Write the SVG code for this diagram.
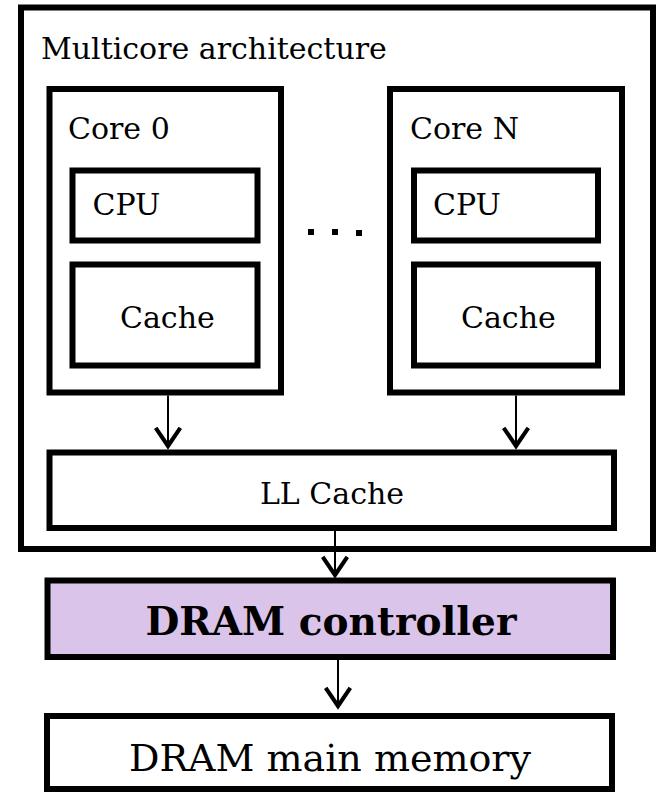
<svg xmlns="http://www.w3.org/2000/svg" width="656" height="792" viewBox="0 0 656 792">
  <defs>
    <marker id="vee" markerUnits="userSpaceOnUse" markerWidth="30" markerHeight="30" viewBox="-22 -14 26 28" refX="0" refY="0" orient="auto" overflow="visible">
      <path d="M-17,-11.5 L0,0 L-17,11.5" fill="none" stroke="#000" stroke-width="3.8" stroke-linejoin="miter"/>
    </marker>
  </defs>
  <style>
    .box { fill: #fff; stroke: #000; stroke-width: 6; }
    .ctrl { fill: #dbc4ea; stroke: #000; stroke-width: 6; }
    .lbl { font-family: "DejaVu Serif", "Liberation Serif", serif; font-size: 30px; fill: #000; }
    .mid { text-anchor: middle; }
    .big { font-size: 38px; }
    .bold { font-weight: bold; font-size: 39px; }
    .link { fill: none; stroke: #000; stroke-width: 2; marker-end: url(#vee); }
  </style>
  <rect width="656" height="792" fill="#fff"/>

  <g id="multicore">
    <rect class="box" x="21" y="7.5" width="632" height="541.5"/>
    <text class="lbl" x="41" y="59">Multicore architecture</text>
  </g>

  <g id="core0">
    <rect class="box" x="49.5" y="89" width="231.5" height="303.5"/>
    <text class="lbl" x="68" y="139">Core 0</text>
  </g>
  <g id="cpu0">
    <rect class="box" x="72.5" y="170.5" width="185" height="70"/>
    <text class="lbl" x="92.5" y="215">CPU</text>
  </g>
  <g id="cache0">
    <rect class="box" x="72.5" y="264.5" width="185" height="101"/>
    <text class="lbl" x="120" y="328">Cache</text>
  </g>

  <g id="ellipsis">
    <rect x="308" y="229" width="6" height="6" fill="#000"/>
    <rect x="332" y="229" width="6" height="6" fill="#000"/>
    <rect x="356" y="230" width="6" height="6" fill="#000"/>
  </g>

  <g id="coreN">
    <rect class="box" x="390" y="89" width="232" height="303.5"/>
    <text class="lbl" x="410" y="139">Core N</text>
  </g>
  <g id="cpuN">
    <rect class="box" x="414" y="170.5" width="184" height="70"/>
    <text class="lbl" x="433" y="215">CPU</text>
  </g>
  <g id="cacheN">
    <rect class="box" x="414" y="264.5" width="184" height="101"/>
    <text class="lbl" x="461" y="328">Cache</text>
  </g>

  <g id="llcache">
    <rect class="box" x="49.5" y="452.5" width="564.5" height="75.5"/>
    <text class="lbl mid" x="332" y="504">LL Cache</text>
  </g>

  <g id="dramctrl">
    <rect class="ctrl" x="47.5" y="580.5" width="565.5" height="76.5"/>
    <text class="lbl bold mid" x="331" y="635">DRAM controller</text>
  </g>

  <g id="dram">
    <rect class="box" x="47" y="716" width="565" height="73"/>
    <text class="lbl big mid" x="330" y="771">DRAM main memory</text>
  </g>

  <g id="connectors">
    <path class="link" d="M168,395.5 V446"/>
    <path class="link" d="M516,395.5 V446"/>
    <path class="link" d="M335,531 V575"/>
    <path class="link" d="M338,660 V706"/>
  </g>
</svg>
